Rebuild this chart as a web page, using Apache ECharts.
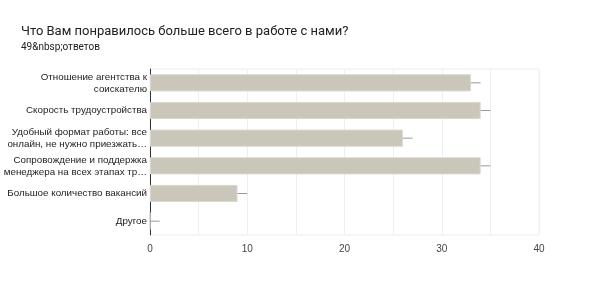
<!DOCTYPE html>
<html>
<head>
<meta charset="utf-8">
<script src="https://cdn.jsdelivr.net/npm/echarts@6/dist/echarts.min.js"></script>
<style>
  html, body { margin: 0; padding: 0; background: #fff; }
  #chart { width: 599px; height: 285px; }
</style>
</head>
<body>
<div id="chart"></div>
<script>
// данные
var categories = [
  'Отношение агентства к\nсоискателю',
  'Скорость трудоустройства',
  'Удобный формат работы: все\nонлайн, не нужно приезжать…',
  'Сопровождение и поддержка\nменеджера на всех этапах тр…',
  'Большое количество вакансий',
  'Другое'
];
var counts = [33, 34, 26, 34, 9, 0];
var xTicks = [0, 10, 20, 30, 40];

var chart = echarts.init(document.getElementById('chart'));

chart.setOption({
  animation: false,
  title: {
    text: 'Что Вам понравилось больше всего в работе с нами?',
    subtext: '49&nbsp;ответов',
    left: 16,
    top: 20,
    itemGap: 4,
    textStyle: { fontFamily: 'Roboto', fontSize: 13, fontWeight: 'normal', color: '#202124' },
    subtextStyle: { fontFamily: 'Roboto', fontSize: 10, color: '#202124' }
  },
  grid: {
    left: 150, right: 60, top: 69, bottom: 50,
    outerBoundsMode: 'none',
    containLabel: false,
    show: true, borderColor: '#eeeeee', borderWidth: 1
  },
  xAxis: {
    type: 'value',
    min: 0, max: 40, interval: 5,
    axisLine: { show: false },
    axisTick: { show: false },
    splitLine: { lineStyle: { color: '#eeeeee' } },
    axisLabel: {
      color: '#444', fontFamily: 'Liberation Sans', fontSize: 10, margin: 9,
      formatter: function (v) { return xTicks.indexOf(v) >= 0 ? v : ''; }
    }
  },
  yAxis: {
    type: 'category',
    inverse: true,
    data: categories,
    axisLine: { show: true, lineStyle: { color: '#333', width: 1 } },
    axisTick: { show: false },
    axisLabel: {
      color: '#222', fontFamily: 'Liberation Sans', fontSize: 9.8,
      lineHeight: 12, margin: 3, align: 'right'
    }
  },
  series: [
    {
      type: 'bar',
      data: counts,
      barCategoryGap: '38%',
      itemStyle: { color: '#cac6ba', borderColor: '#dad7ce', borderWidth: 1 }
    },
    {
      // короткая серая черта после каждого столбца
      type: 'custom',
      data: counts.map(function (v, i) { return [v, i]; }),
      renderItem: function (params, api) {
        var a = api.coord([api.value(0), api.value(1)]);
        var b = api.coord([api.value(0) + 1, api.value(1)]);
        return {
          type: 'line',
          shape: { x1: a[0], y1: a[1], x2: b[0], y2: b[1] },
          style: { stroke: '#999', lineWidth: 1 }
        };
      },
      z: 3
    }
  ]
});
</script>
</body>
</html>
